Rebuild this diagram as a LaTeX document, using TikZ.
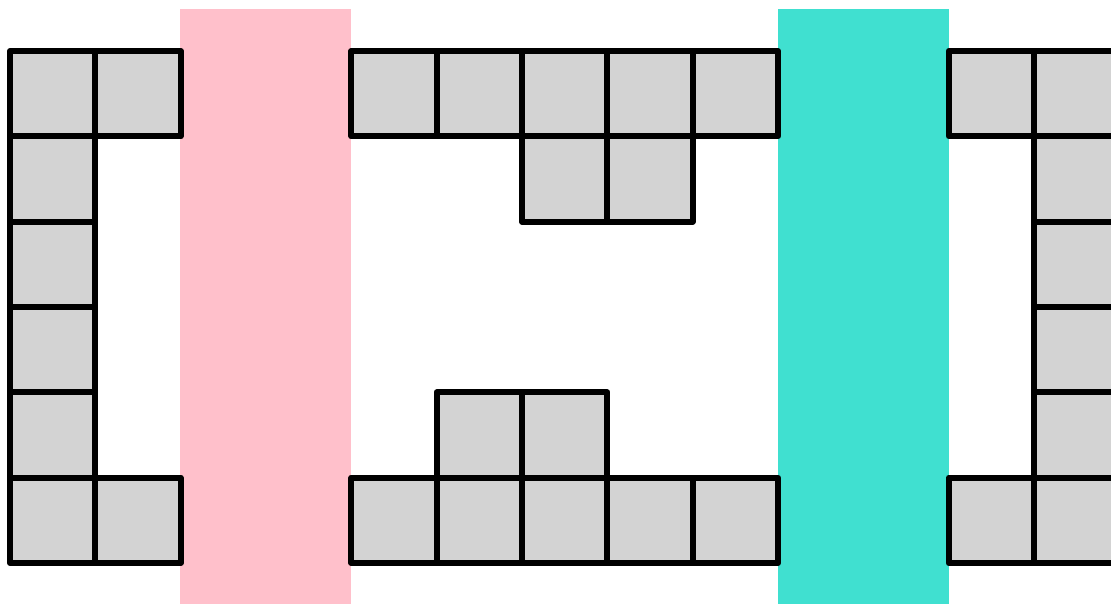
\documentclass[tikz,border=0pt]{standalone}
\definecolor{cellgray}{RGB}{211,211,211}
\definecolor{bandpink}{RGB}{255,192,203}
\definecolor{bandturq}{RGB}{64,224,208}
\begin{document}
\begin{tikzpicture}[x=0.01cm,y=-0.01cm,
  cell/.style={fill=cellgray,draw=black,line width=0.06cm,line join=round},
  band/.style={draw=none}]
\useasboundingbox (0,0) rectangle (1111,604);
\clip (0,0) rectangle (1111,604);
\fill[band,bandpink] (180,9) rectangle (351,604);
\fill[band,bandturq] (778,9) rectangle (949,604);
\foreach \c/\r in {0/0,1/0,0/1,0/2,0/3,0/4,0/5,1/5,
  4/0,5/0,6/0,7/0,8/0,6/1,7/1,5/4,6/4,4/5,5/5,6/5,7/5,8/5,
  11/0,12/0,12/1,12/2,12/3,12/4,11/5,12/5}
  \draw[cell] ({10+85.333*\c},{51+85.333*\r}) rectangle ++(85.333,85.333);
\end{tikzpicture}
\end{document}
